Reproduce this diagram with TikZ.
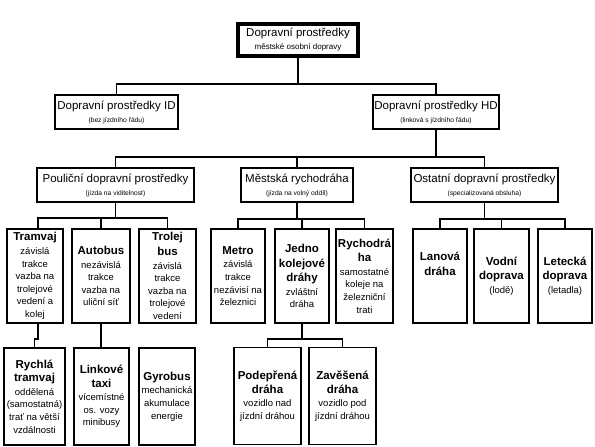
\documentclass[tikz,border=0pt]{standalone}
\usepackage{fontspec}
\setmainfont{Liberation Sans}
\newcommand{\nadpis}[1]{{\fontsize{11.5}{13}\selectfont\bfseries #1}}
\newcommand{\pozn}[1]{{\fontsize{6.7}{8}\selectfont #1}}

\begin{document}
\begin{tikzpicture}[x=1pt,y=-1pt,
		box/.style={draw, line width=1.8pt, align=center, inner sep=0pt, font=\fontsize{9.5}{12.6}\selectfont},
		hlava/.style={box, font=\fontsize{11.5}{13}\selectfont, minimum height=34pt},
		list/.style={box, minimum height=94pt},
		dole/.style={box, minimum height=97pt},
		spoj/.style={line width=1.8pt}]
		\useasboundingbox (0,0) rectangle (595,447);
		
		\node[hlava, line width=3.5pt, minimum width=120pt, minimum height=32pt] (dp) at (298,40) {Dopravní prostředky\\{\fontsize{8}{9}\selectfont městské osobní dopravy}};
		\node[hlava, minimum width=123pt] (id) at (116.5,112) {Dopravní prostředky ID\\\pozn{(bez jízdního řádu)}};
		\node[hlava, minimum width=126pt] (hd) at (436,112) {Dopravní prostředky HD\\\pozn{(linková s jízdního řádu)}};
		\node[hlava, minimum width=157pt] (poul) at (115.5,185) {Pouliční dopravní prostředky\\\pozn{(jízda na viditelnost)}};
		\node[hlava, minimum width=112pt] (mest) at (297,185) {Městská rychodráha\\\pozn{(jízda na volný oddíl)}};
		\node[hlava, minimum width=147pt] (ost) at (484.5,185) {Ostatní dopravní prostředky\\\pozn{(specializovaná obsluha)}};
		
		\node[list, minimum width=56pt] (tram) at (35,276) {\nadpis{Tramvaj}\\[1pt]závislá\\trakce\\vazba na\\trolejové\\vedení a\\kolej};
		\node[list, minimum width=58pt] (auto) at (101,276) {\nadpis{Autobus}\\[1pt]nezávislá\\trakce\\vazba na\\uliční síť};
		\node[list, minimum width=57pt] (trol) at (167.5,276) {\nadpis{Trolej}\\[2pt]\nadpis{bus}\\[1pt]závislá\\trakce\\vazba na\\trolejové\\vedení};
		\node[list, minimum width=54pt] (metro) at (238,276) {\nadpis{Metro}\\[1pt]závislá\\trakce\\nezávisí na\\železnici};
		\node[list, minimum width=54pt] (jedno) at (302,276) {\nadpis{Jedno}\\[2pt]\nadpis{kolejové}\\[2pt]\nadpis{dráhy}\\[1pt]zvláštní\\dráha};
		\node[list, minimum width=57pt] (rychd) at (364.5,276) {\nadpis{Rychodrá}\\[2pt]\nadpis{ha}\\[1pt]samostatné\\koleje na\\železniční\\trati};
		\node[list, minimum width=54pt] (lan) at (440,276) {\nadpis{Lanová}\\[2pt]\nadpis{dráha}\\[12pt]};
		\node[list, minimum width=55pt] (vod) at (501.5,276) {\nadpis{Vodní}\\[2pt]\nadpis{doprava}\\[1pt](lodě)};
		\node[list, minimum width=54pt] (let) at (565,276) {\nadpis{Letecká}\\[2pt]\nadpis{doprava}\\[1pt](letadla)};
		
		\node[dole, minimum width=61pt] (rychla) at (34.5,396.5) {\nadpis{Rychlá}\\[1pt]\nadpis{tramvaj}\\[1pt]oddělená\\(samostatná)\\trať na větší\\vzdálnosti};
		\node[dole, minimum width=55pt] (linka) at (101.5,396.5) {\nadpis{Linkové}\\[1pt]\nadpis{taxi}\\[1pt]vícemístné\\os. vozy\\minibusy};
		\node[dole, minimum width=56pt] (gyro) at (167,396.5) {\nadpis{Gyrobus}\\[1pt]mechanická\\akumulace\\energie};
		\node[dole, minimum width=67pt] (podep) at (267.5,396) {\nadpis{Podepřená}\\[1pt]\nadpis{dráha}\\[1pt]vozidlo nad\\jízdní dráhou};
		\node[dole, minimum width=67pt] (zav) at (342.5,396) {\nadpis{Zavěšená}\\[1pt]\nadpis{dráha}\\[1pt]vozidlo pod\\jízdní dráhou};
		
		\coordinate (k1) at (298,84);
		\coordinate (k2) at (436,157);
		\coordinate (k3) at (115.5,218);
		\coordinate (k4) at (297,219);
		\coordinate (k5) at (484.5,219);
		\coordinate (k6) at (302,339);
		
		\draw[spoj] (dp) -- (k1) -| (id)
		(k1) -| (hd)
		(hd) -- (k2) -| (poul)
		(k2) -| (mest)
		(k2) -| (ost)
		(poul) -- (k3) -| ([xshift=3pt]tram.north)
		(k3) -| (auto)
		(k3) -| (trol)
		(mest) -- (k4) -| (metro)
		(k4) -| (jedno)
		(k4) -| (rychd)
		(ost) -- (k5) -| (lan)
		(k5) -| (vod)
		(k5) -| (let)
		([xshift=3pt]tram.south) -- ++(0,15) -| (rychla)
		(auto.south) -- (auto.south |- linka.north)
		(jedno) -- (k6) -| (podep)
		(k6) -| (zav)
		;
		\end{tikzpicture}
\end{document}
